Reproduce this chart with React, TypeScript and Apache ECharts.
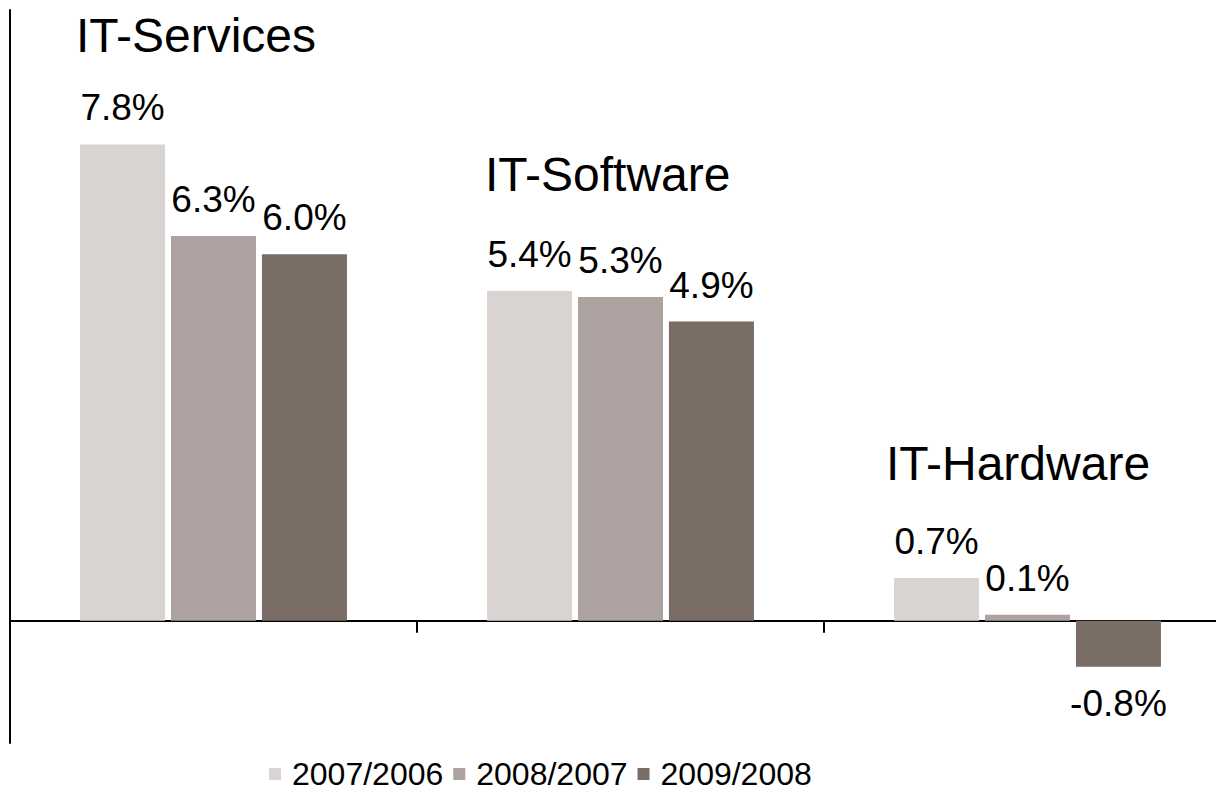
import React, { useEffect, useRef } from "react";
import * as echarts from "echarts";

const categories = ["IT-Services", "IT-Software", "IT-Hardware"];
const seriesNames = ["2007/2006", "2008/2007", "2009/2008"];
const values2007 = [7.8, 5.4, 0.7];
const values2008 = [6.3, 5.3, 0.1];
const values2009 = [6.0, 4.9, -0.75];
const colors = ["#d9d4d2", "#ada2a0", "#7a6d65"];

const FONT = "Liberation Sans, Arial, sans-serif";

export default function App() {
  const ref = useRef<HTMLDivElement>(null);
  useEffect(() => {
    if (!ref.current) return;
    const chart = echarts.init(ref.current, null, { renderer: "svg" });
    const allValues = [values2007, values2008, values2009];
    const series = allValues.map((vals, i) => ({
      name: seriesNames[i],
      type: "bar",
      barWidth: 85,
      barGap: "7%",
      itemStyle: { color: colors[i] },
      label: {
        show: true,
        position: "top",
        distance: 18,
        fontSize: 37,
        fontFamily: FONT,
        color: "#000",
        formatter: (p: any) => `${Number(p.value).toFixed(1)}%`,
      },
      data: vals.map((v) =>
        v < 0 ? { value: v, label: { position: "bottom" } } : v
      ),
    }));
    chart.setOption({
      animation: false,
      backgroundColor: "#fff",
      grid: { left: 10, top: 10, width: 1221, height: 733, containLabel: false },
      xAxis: {
        type: "category",
        data: categories,
        axisLine: { onZero: true, lineStyle: { color: "#000", width: 2 } },
        axisTick: { show: true, length: 12, lineStyle: { color: "#000", width: 2 } },
        axisLabel: { show: false },
        splitLine: { show: false },
      },
      yAxis: {
        type: "value",
        min: -2,
        max: 10,
        axisLine: { show: true, lineStyle: { color: "#000", width: 2 } },
        axisTick: { show: false },
        axisLabel: { show: false },
        splitLine: { show: false },
      },
      legend: {
        left: 264,
        top: 753,
        itemWidth: 12,
        itemHeight: 12,
        itemGap: 10,
        icon: "rect",
        textStyle: {
          fontSize: 32,
          fontFamily: FONT,
          color: "#000",
          padding: [0, 0, 0, 6],
        },
        data: seriesNames,
      },
      graphic: [
        { type: "text", left: 76, top: 11, style: { text: categories[0], fontSize: 48, fontFamily: FONT, fill: "#000" } },
        { type: "text", left: 485, top: 150, style: { text: categories[1], fontSize: 48, fontFamily: FONT, fill: "#000" } },
        { type: "text", left: 886, top: 439, style: { text: categories[2], fontSize: 48, fontFamily: FONT, fill: "#000" } },
      ],
      series,
    });
    return () => chart.dispose();
  }, []);
  return (
    <div style={{ position: "fixed", left: 0, top: 0, width: 1216, height: 812, overflow: "hidden", background: "#fff" }}>
      <div ref={ref} style={{ position: "absolute", left: 0, top: 0, width: 1250, height: 812 }} />
    </div>
  );
}
